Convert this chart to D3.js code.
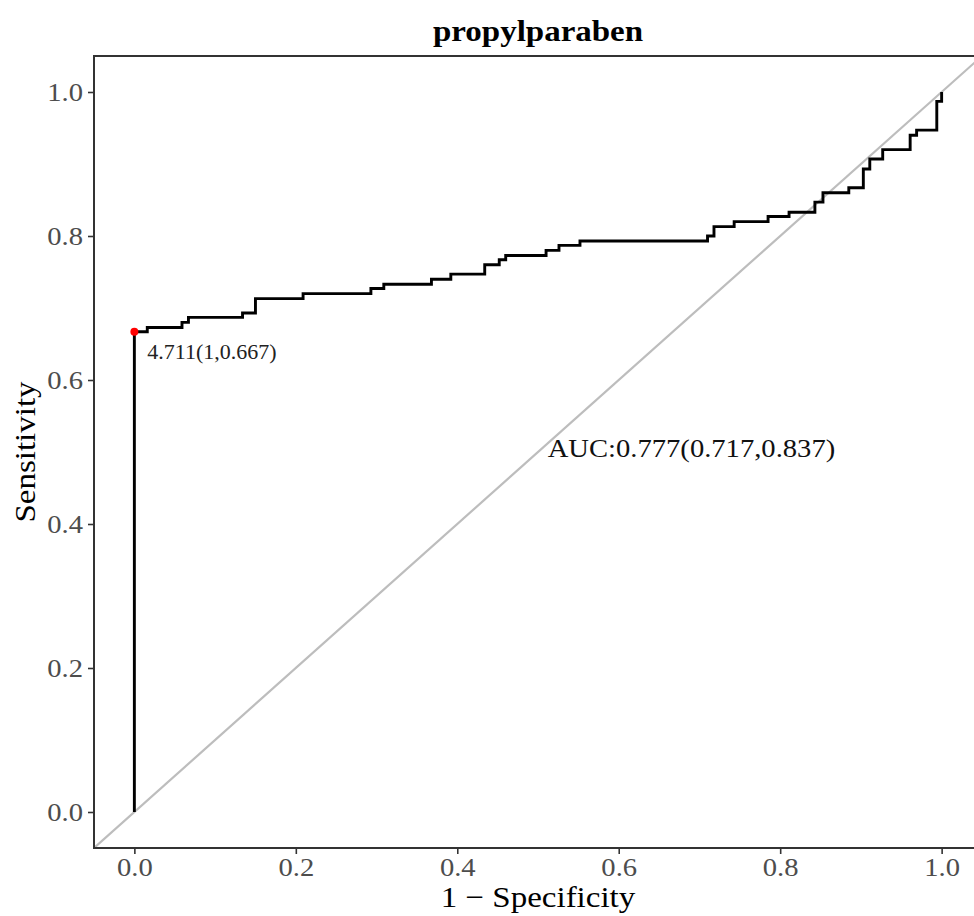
<!DOCTYPE html>
<html>
<head>
<meta charset="utf-8">
<script src="https://cdn.jsdelivr.net/npm/d3@7"></script>
<style>
  html, body { margin: 0; padding: 0; background: #fff; }
  svg { display: block; }
  text { font-family: "Liberation Serif", "Times New Roman", serif; }
</style>
</head>
<body>
<div id="chart"></div>
<script>
// ---- Data ----
const title = "propylparaben";
// ROC step points: x = 1 - specificity where each horizontal level starts, y = sensitivity
const fpr = [0, 0, 0.016, 0.059, 0.067, 0.134, 0.150, 0.209, 0.293, 0.309, 0.368, 0.392, 0.434, 0.452, 0.460, 0.510, 0.526, 0.552, 0.710, 0.718, 0.743, 0.785, 0.811, 0.843, 0.853, 0.885, 0.903, 0.911, 0.927, 0.961, 0.969, 0.994, 1.0];
const tpr = [0, 0.667, 0.673, 0.680, 0.687, 0.693, 0.713, 0.720, 0.727, 0.733, 0.740, 0.747, 0.760, 0.767, 0.773, 0.780, 0.787, 0.793, 0.800, 0.813, 0.820, 0.827, 0.833, 0.847, 0.860, 0.867, 0.893, 0.907, 0.920, 0.940, 0.947, 0.987, 1.0];
const bestPoint = [0, 0.667];
const bestLabel = "4.711(1,0.667)";
const aucLabel = "AUC:0.777(0.717,0.837)";
const aucPos = [0.512, 0.50];
const xTicks = [0, 0.2, 0.4, 0.6, 0.8, 1.0];
const yTicks = [0, 0.2, 0.4, 0.6, 0.8, 1.0];
const xTitle = "1 \u2212 Specificity";
const yTitle = "Sensitivity";

// ---- Layout ----
const W = 974, H = 916;
const SX = 1.1; // horizontal glyph stretch seen in the reference
const svg = d3.select("#chart").append("svg").attr("width", W).attr("height", H);

const x = d3.scaleLinear().domain([-0.05, 1.05]).range([94, 982]);
const y = d3.scaleLinear().domain([-0.05, 1.05]).range([848, 56]);

svg.append("defs").append("clipPath").attr("id", "panel")
  .append("rect").attr("x", x(-0.05)).attr("y", y(1.05))
  .attr("width", x(1.05) - x(-0.05)).attr("height", y(-0.05) - y(1.05));

const g = svg.append("g").attr("clip-path", "url(#panel)");

// diagonal reference line
g.append("line")
  .attr("x1", x(-0.05)).attr("y1", y(-0.05))
  .attr("x2", x(1.05)).attr("y2", y(1.05))
  .attr("stroke", "#bdbdbd").attr("stroke-width", 2.2);

// ROC curve
const pts = fpr.map((v, i) => [v, tpr[i]]);
const line = d3.line().x(d => x(d[0])).y(d => y(d[1])).curve(d3.curveStepAfter);
g.append("path").datum(pts)
  .attr("d", line)
  .attr("fill", "none").attr("stroke", "#000").attr("stroke-width", 2.9)
  .attr("stroke-linejoin", "miter");

// best point
g.append("circle")
  .attr("cx", x(bestPoint[0])).attr("cy", y(bestPoint[1]))
  .attr("r", 4).attr("fill", "#ff0000");

function label(parent, tx, ty, txt, size, opts = {}) {
  const t = parent.append("text")
    .attr("transform", `translate(${tx},${ty})${opts.rotate ? " rotate(" + opts.rotate + ")" : ""} scale(${SX},1)`)
    .attr("font-size", size)
    .attr("fill", opts.fill || "#000")
    .attr("text-anchor", opts.anchor || "start")
    .text(txt);
  if (opts.bold) t.attr("font-weight", "bold");
  return t;
}

label(g, x(bestPoint[0]) + 13, y(bestPoint[1]) + 27, bestLabel, 20, { fill: "#222" });
label(g, x(aucPos[0]), y(aucPos[1]) + 5, aucLabel, 26, { fill: "#111" });

// panel border
svg.append("rect")
  .attr("x", x(-0.05)).attr("y", y(1.05))
  .attr("width", x(1.05) - x(-0.05)).attr("height", y(-0.05) - y(1.05))
  .attr("fill", "none").attr("stroke", "#333").attr("stroke-width", 2);

// axes
const xAxis = svg.append("g").attr("transform", `translate(0,${y(-0.05)})`)
  .call(d3.axisBottom(x).tickValues(xTicks).tickFormat(d3.format(".1f")).tickSize(6).tickPadding(4));
const yAxis = svg.append("g").attr("transform", `translate(${x(-0.05)},0)`)
  .call(d3.axisLeft(y).tickValues(yTicks).tickFormat(d3.format(".1f")).tickSize(6).tickPadding(4));
[xAxis, yAxis].forEach(a => {
  a.select(".domain").remove();
  a.selectAll(".tick line").attr("stroke", "#333").attr("stroke-width", 1.6);
  a.selectAll(".tick text").attr("font-size", 26).attr("fill", "#4d4d4d")
    .attr("font-family", "'Liberation Serif', serif")
    .attr("transform", `scale(${SX},1)`);
});

// titles
const cx = (x(-0.05) + x(1.05)) / 2;
label(svg, cx, 41, title, 30, { anchor: "middle", bold: true });
label(svg, cx, 907, xTitle, 30, { anchor: "middle" });
label(svg, 35, (y(-0.05) + y(1.05)) / 2, yTitle, 30, { anchor: "middle", rotate: -90 });
</script>
</body>
</html>
